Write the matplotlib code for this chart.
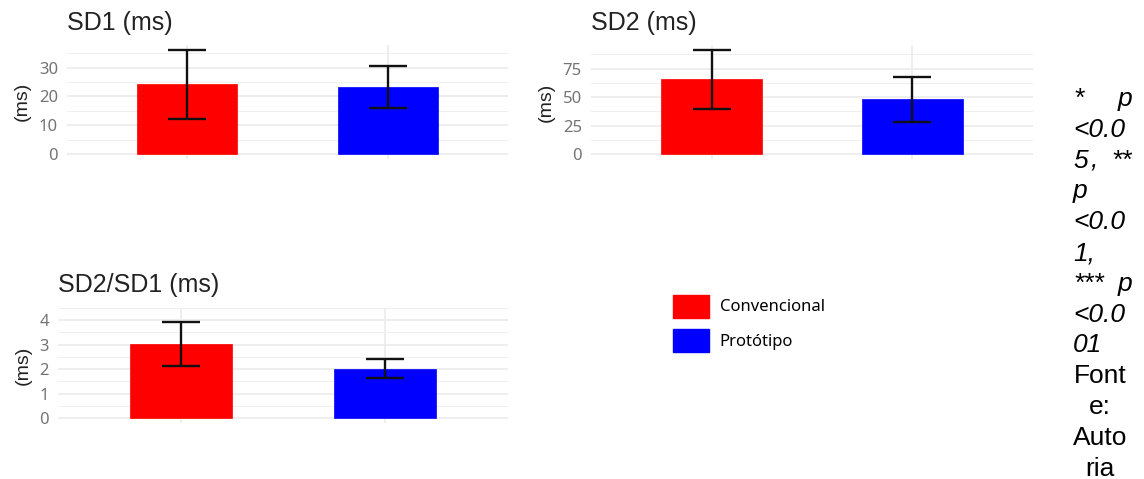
import matplotlib
matplotlib.use("Agg")
import matplotlib.pyplot as plt
from matplotlib.patches import Patch
import numpy as np

# ---- data ----
groups = ["Convencional", "Protótipo"]
colors = ["#FF0000", "#0000FF"]
titles = ["SD1 (ms)", "SD2 (ms)", "SD2/SD1 (ms)"]
sd1_mean = [24.2, 23.2]
sd1_sd = [12.0, 7.2]
sd2_mean = [65.5, 48.0]
sd2_sd = [25.8, 19.5]
ratio_mean = [3.03, 2.02]
ratio_sd = [0.90, 0.38]
yticks_list = [[0, 10, 20, 30], [0, 25, 50, 75], [0, 1, 2, 3, 4]]
note_lines = [["*", "p"], ["<0.0"], ["5", ",", "**"], ["p"], ["<0.0"], ["1,"],
              ["***", "p"], ["<0.0"], ["01"]]
source_lines = ["Font", "e:", "Auto", "ria"]

W, H = 1144, 479
fig = plt.figure(figsize=(W / 100, H / 100), dpi=100)

def px_axes(x0, x1, ytop, ybot):
    return fig.add_axes([x0 / W, 1 - ybot / H, (x1 - x0) / W, (ybot - ytop) / H])

boxes = [(67, 508, 44.5, 159.2), (591, 1033, 44.8, 159.2), (58, 508, 308, 422.9)]
means = [sd1_mean, sd2_mean, ratio_mean]
sds = [sd1_sd, sd2_sd, ratio_sd]
title_pads = [10.5, 10.5, 11.5]

for box, title, m, s, yt, tp in zip(boxes, titles, means, sds, yticks_list, title_pads):
    ax = px_axes(*box)
    x = np.arange(1, len(groups) + 1)
    m = np.array(m); s = np.array(s)
    ax.bar(x, m, width=0.5, color=colors, edgecolor=colors, linewidth=0.5, zorder=2)
    ax.errorbar(x, m, yerr=s, fmt="none", ecolor="#111111", elinewidth=1.7,
                capsize=14, capthick=1.7, zorder=3)
    top = (m + s).max()
    ax.set_ylim(-0.05 * top, top * 1.05)
    ax.set_xlim(0.4, 2.6)
    ax.set_yticks(yt)
    step = yt[1] - yt[0]
    minor = [v + step / 2 for v in yt]
    ax.set_yticks(minor, minor=True)
    ax.set_xticks(x)
    ax.set_xticklabels([])
    ax.grid(True, which="major", axis="both", color="#EBEBEB", linewidth=1.2, zorder=0)
    ax.grid(True, which="minor", axis="y", color="#EFEFEF", linewidth=0.7, zorder=0)
    ax.set_axisbelow(True)
    for sp in ax.spines.values():
        sp.set_visible(False)
    ax.tick_params(axis="both", which="both", length=0)
    ax.tick_params(axis="y", labelsize=12, labelcolor="#747474", pad=6.5)
    for lab in ax.get_yticklabels():
        lab.set_family("Noto Sans")
    ax.set_ylabel("(ms)", fontsize=14, color="#222222", family="Liberation Sans", labelpad=5.5)
    ax.set_title(title, loc="left", fontsize=18, color="#222222",
                 family="Liberation Sans", pad=tp, x=0.0)

# legend
handles = [Patch(facecolor=c, edgecolor=c, label=g) for c, g in zip(colors, groups)]
fig.legend(handles=handles, loc="upper left", bbox_to_anchor=(673 / W, 1 - 294.5 / H),
           frameon=False, handlelength=2.15, handleheight=1.75, labelspacing=0.7,
           borderpad=0, borderaxespad=0,
           prop={"family": "Noto Sans", "size": 12}, handletextpad=0.65)

# right notes
xl, xr, xc = 1073, 1132, 1100
y = 99
fs = 19
for words in note_lines:
    yy = 1 - y / H
    if len(words) == 1:
        fig.text(xl / W, yy, words[0], ha="left", va="center", fontsize=fs,
                 style="italic", family="Liberation Sans")
    else:
        fig.text(xl / W, yy, words[0], ha="left", va="center", fontsize=fs,
                 style="italic", family="Liberation Sans")
        fig.text(xr / W, yy, words[-1], ha="right", va="center", fontsize=fs,
                 style="italic", family="Liberation Sans")
        for w in words[1:-1]:
            fig.text(1094 / W, yy, w, ha="center", va="center", fontsize=fs,
                     style="italic", family="Liberation Sans")
    y += 30.8
for ln in source_lines:
    fig.text(xc / W, 1 - y / H, ln, ha="center", va="center", fontsize=fs,
             family="Liberation Sans")
    y += 30.8

fig.savefig("out.png", dpi=100)
